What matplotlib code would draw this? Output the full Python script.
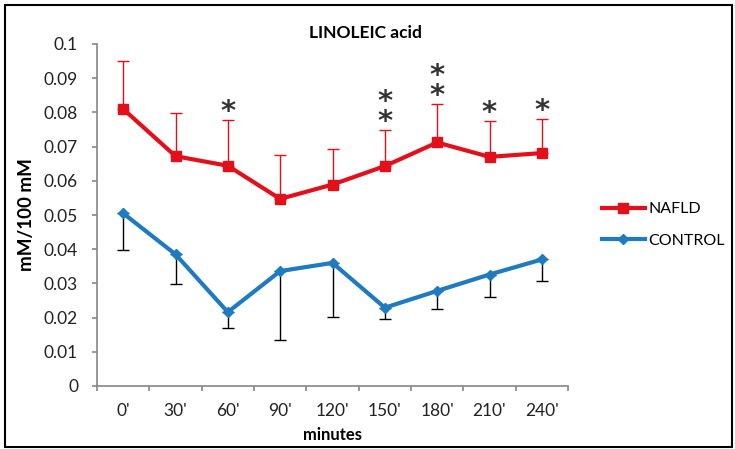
import matplotlib.pyplot as plt
import numpy as np
from matplotlib.patches import Rectangle

plt.rcParams["font.family"] = ["Lato", "DejaVu Sans"]

MINUTES = ["0'", "30'", "60'", "90'", "120'", "150'", "180'", "210'", "240'"]
NAFLD = [0.0810, 0.0672, 0.0644, 0.0547, 0.0589, 0.0643, 0.0712, 0.0670, 0.0681]
NAFLD_TOP = [0.0950, 0.0799, 0.0778, 0.0675, 0.0694, 0.0749, 0.0824, 0.0776, 0.0781]
CONTROL = [0.0505, 0.0385, 0.0216, 0.0336, 0.0360, 0.0229, 0.0278, 0.0326, 0.0370]
CONTROL_LOW = [0.0397, 0.0297, 0.0170, 0.0134, 0.0202, 0.0197, 0.0225, 0.0260, 0.0306]
STARS = [0, 0, 1, 0, 0, 2, 2, 1, 1]

RED = "#E3101C"
BLUE = "#1F7BC1"
GREY = "#868686"


def main():
    fig = plt.figure(figsize=(7.35, 4.49), dpi=100)
    ax = fig.add_axes([97 / 735, 1 - 386 / 449, 471 / 735, 342 / 449])

    x = np.arange(len(MINUTES))
    n_up = np.array(NAFLD_TOP) - np.array(NAFLD)
    c_dn = np.array(CONTROL) - np.array(CONTROL_LOW)

    ax.errorbar(x, NAFLD, yerr=[np.zeros_like(n_up), n_up], fmt="none",
                ecolor=RED, elinewidth=1.0, capsize=4.5, capthick=1.0, zorder=2)
    ax.errorbar(x, CONTROL, yerr=[c_dn, np.zeros_like(c_dn)], fmt="none",
                ecolor="black", elinewidth=1.0, capsize=4.5, capthick=1.0, zorder=2)
    ax.plot(x, NAFLD, color=RED, linewidth=3.0, marker="s", markersize=7.5,
            label="NAFLD", zorder=3)
    ax.plot(x, CONTROL, color=BLUE, linewidth=3.0, marker="D", markersize=5.5,
            label="CONTROL", zorder=3)

    # significance stars above NAFLD error bars (stacked as one text)
    for i, n in enumerate(STARS):
        if n == 0:
            continue
        ax.annotate("\n".join(["*"] * n), (x[i], NAFLD_TOP[i]), xytext=(0, -4.3),
                    textcoords="offset points", ha="center", va="bottom",
                    fontsize=21, fontweight="bold", color="#333333",
                    family="DejaVu Sans", linespacing=0.64)

    ax.set_xlim(-0.5, len(MINUTES) - 0.5)
    ax.set_ylim(0, 0.1)
    ax.set_yticks(np.arange(0, 0.1001, 0.01))
    ax.set_yticklabels(["0", "0.01", "0.02", "0.03", "0.04", "0.05",
                        "0.06", "0.07", "0.08", "0.09", "0.1"])
    ax.set_xticks(x)
    ax.set_xticklabels(MINUTES)
    ax.set_xticks(np.arange(-0.5, len(MINUTES)), minor=True)
    ax.tick_params(axis="x", which="major", length=0, pad=12.5, labelsize=12.5,
                   colors="#222222")
    ax.tick_params(axis="x", which="minor", length=3.6, color=GREY, width=1.2)
    ax.tick_params(axis="y", length=3.6, width=1.2, pad=10,
                   labelsize=12.5, colors="#222222")
    ax.tick_params(axis="y", color=GREY)
    for side in ("top", "right"):
        ax.spines[side].set_visible(False)
    for side in ("left", "bottom"):
        ax.spines[side].set_color(GREY)
        ax.spines[side].set_linewidth(1.2)

    fig.text(365.5 / 735, 1 - 33 / 449, "LINOLEIC acid", ha="center", va="center",
             fontsize=12.5, fontweight="bold")
    ax.set_xlabel("minutes", fontsize=12, fontweight="bold", labelpad=5.5)
    ax.set_ylabel("mM/100 mM", fontsize=13.5, fontweight="bold")
    ax.yaxis.set_label_coords(-0.131, 0.5)

    ax.legend(loc="center left", bbox_to_anchor=(1.072, 0.471), frameon=False,
              borderpad=0, borderaxespad=0, fontsize=11.5, handlelength=2.7,
              labelspacing=1.1, handletextpad=0.2)

    fig.patches.append(Rectangle((5 / 735, 2 / 449), 727 / 735, 442 / 449,
                                 transform=fig.transFigure, fill=False,
                                 edgecolor="black", linewidth=1.5))

    fig.savefig("out.png", dpi=100)
    plt.close(fig)


if __name__ == "__main__":
    main()
